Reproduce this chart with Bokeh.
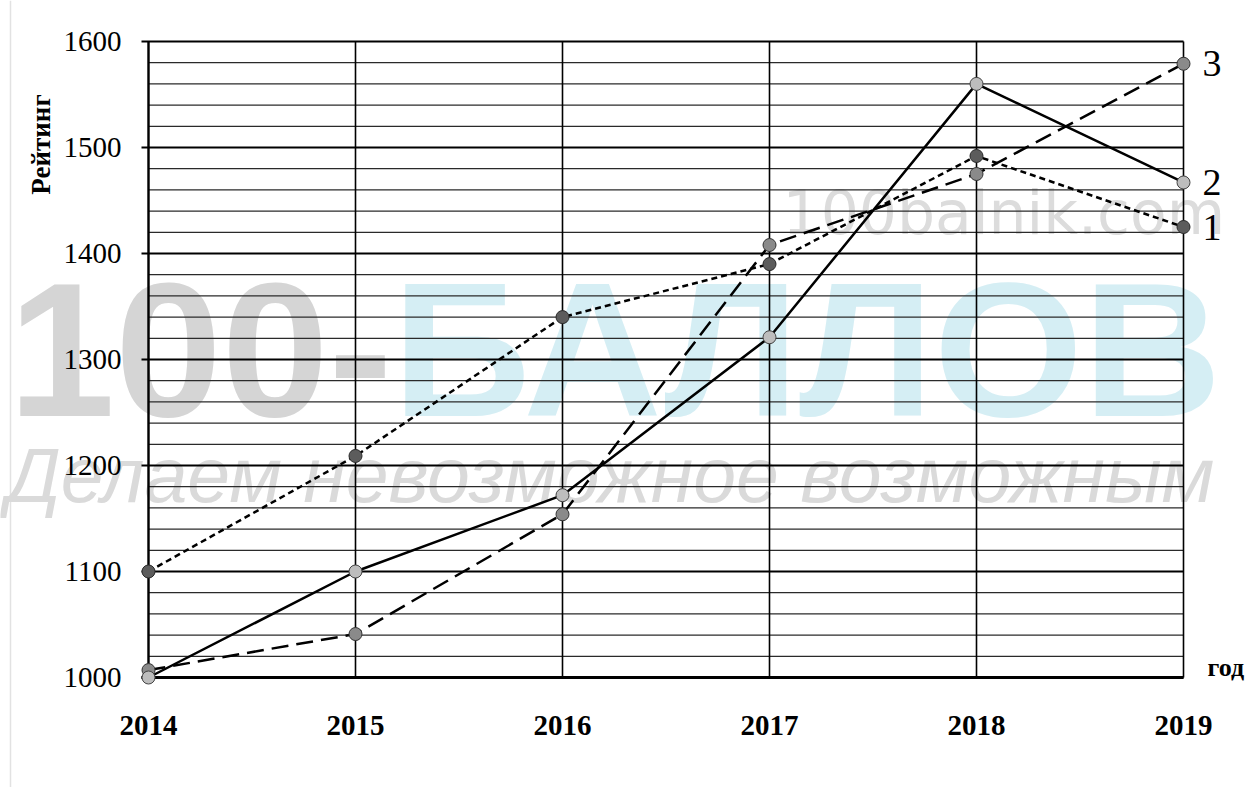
from bokeh.plotting import figure
from bokeh.models import Range1d
from bokeh.core.properties import value
from bokeh.embed import file_html
from bokeh.resources import INLINE
import math

# ---- data ----
years = [2014, 2015, 2016, 2017, 2018, 2019]
series1 = [1100, 1209, 1340, 1390, 1492, 1425]   # short dashes, dark markers
series2 = [1000, 1100, 1172, 1321, 1560, 1467]   # solid, light markers
series3 = [1007, 1041, 1154, 1408, 1475, 1579]   # long dashes, medium markers
series_labels = ["1", "2", "3"]
y_ticks = [1000, 1100, 1200, 1300, 1400, 1500, 1600]
y_tick_labels = [str(v) for v in y_ticks]
x_tick_labels = [str(v) for v in years]
y_minor_step = 20

# ---- geometry: the frame covers the whole canvas ----
W, H = 1250, 787
PX_PER_YEAR = 207.0
PX_PER_UNIT = 1.06
x0, x1 = years[0], years[-1]
ymin, ymax = y_ticks[0], y_ticks[-1]


def xd(px):
    return x0 + (px - 148) / PX_PER_YEAR


def yd(py):
    return ymin + (677 - py) / PX_PER_UNIT


p = figure(width=W, height=H, output_backend="svg", toolbar_location=None,
           title=None, x_axis_location=None, y_axis_location=None,
           x_range=Range1d(xd(0), xd(W)), y_range=Range1d(yd(H), yd(0)),
           min_border=0)
p.min_border_left = 0
p.min_border_right = 0
p.min_border_top = 0
p.min_border_bottom = 0
p.outline_line_color = None
p.xgrid.visible = False
p.ygrid.visible = False
p.background_fill_color = "white"
p.border_fill_color = "white"

# faint image border on the left
p.segment(x0=[xd(10)], y0=[yd(0)], x1=[xd(10)], y1=[yd(H)], line_color="#e2e2e2", line_width=1.5)

# ---- watermark (faint), kept inside the canvas ----
wm = [
    dict(text="100-", x=xd(392), y=yd(349), align="right", size="192px", style="bold",
         color="#d5d5d5", font="Liberation Sans"),
    dict(text="БАЛЛОВ", x=xd(392), y=yd(349), align="left", size="192px", style="bold",
         color="#d5eef4", font="Liberation Sans"),
    dict(text="100balnik.com", x=xd(782), y=yd(212), align="left", size="60px", style="normal",
         color="#dcdcdc", font="DejaVu Sans"),
    dict(text="Делаем невозможное возможным", x=xd(6), y=yd(474), align="left", size="77px",
         style="italic", color="#dadada", font="Liberation Sans"),
]
for w in wm:
    p.text(x=[w["x"]], y=[w["y"]], text=[w["text"]], text_align=w["align"],
           text_baseline="middle", text_font=value(w["font"]),
           text_font_size=w["size"], text_font_style=w["style"],
           text_color=w["color"])

# ---- grid lines ----
minor_vals = [v for v in range(ymin, ymax + 1, y_minor_step) if v % 100 != 0]
p.segment(x0=[x0] * len(minor_vals), y0=minor_vals, x1=[x1] * len(minor_vals), y1=minor_vals,
          line_color="#2a2a2a", line_width=1.2)
p.segment(x0=[x0 - 7 / PX_PER_YEAR] * len(y_ticks), y0=y_ticks, x1=[x1] * len(y_ticks), y1=y_ticks,
          line_color="black", line_width=2)
p.segment(x0=years, y0=[ymin] * len(years), x1=years, y1=[ymax] * len(years),
          line_color="black", line_width=1.6)
p.segment(x0=[x0 - 7 / PX_PER_YEAR], y0=[ymin], x1=[x1], y1=[ymin], line_color="black", line_width=2.8)
p.segment(x0=[x0], y0=[ymin], x1=[x0], y1=[ymax], line_color="black", line_width=2.2)

# ---- series ----
p.line(years, series1, line_color="black", line_width=2.5, line_dash="6 4")
p.line(years, series3, line_color="black", line_width=2.5, line_dash="17 8")
p.line(years, series2, line_color="black", line_width=2.5)

p.scatter(years, series3, marker="circle", size=13, fill_color="#8a8a8a", line_color="#333333", line_width=1)
p.scatter(years, series1, marker="circle", size=13, fill_color="#5c5c5c", line_color="#2a2a2a", line_width=1)
p.scatter(years, series2, marker="circle", size=13, fill_color="#bdbdbd", line_color="#444444", line_width=1)

# ---- end labels 1, 2, 3 ----
ends = [series1[-1], series2[-1], series3[-1]]
p.text(x=[x1] * 3, y=ends, text=series_labels, x_offset=19, text_align="left",
       text_baseline="middle", text_font=value("Liberation Serif"),
       text_font_size="38px", text_color="black")

# ---- tick labels ----
p.text(x=[xd(121)] * len(y_ticks), y=y_ticks, text=y_tick_labels, text_align="right",
       text_baseline="middle", text_font=value("Liberation Serif"),
       text_font_size="29px", text_color="black")
p.text(x=years, y=[yd(725)] * len(years), text=x_tick_labels, text_align="center",
       text_baseline="middle", text_font=value("Liberation Serif"),
       text_font_size="29px", text_font_style="bold", text_color="black")

# ---- axis titles ----
p.text(x=[xd(40)], y=[yd(144)], text=["Рейтинг"], angle=math.pi / 2,
       text_align="center", text_baseline="middle",
       text_font=value("Liberation Serif"), text_font_size="27px",
       text_font_style="bold", text_color="black")
p.text(x=[xd(1207)], y=[yd(667)], text=["год"], text_align="left",
       text_baseline="middle", text_font=value("Liberation Serif"),
       text_font_size="26px", text_font_style="bold", text_color="black")

open("out.html", "w").write(file_html(p, INLINE))
